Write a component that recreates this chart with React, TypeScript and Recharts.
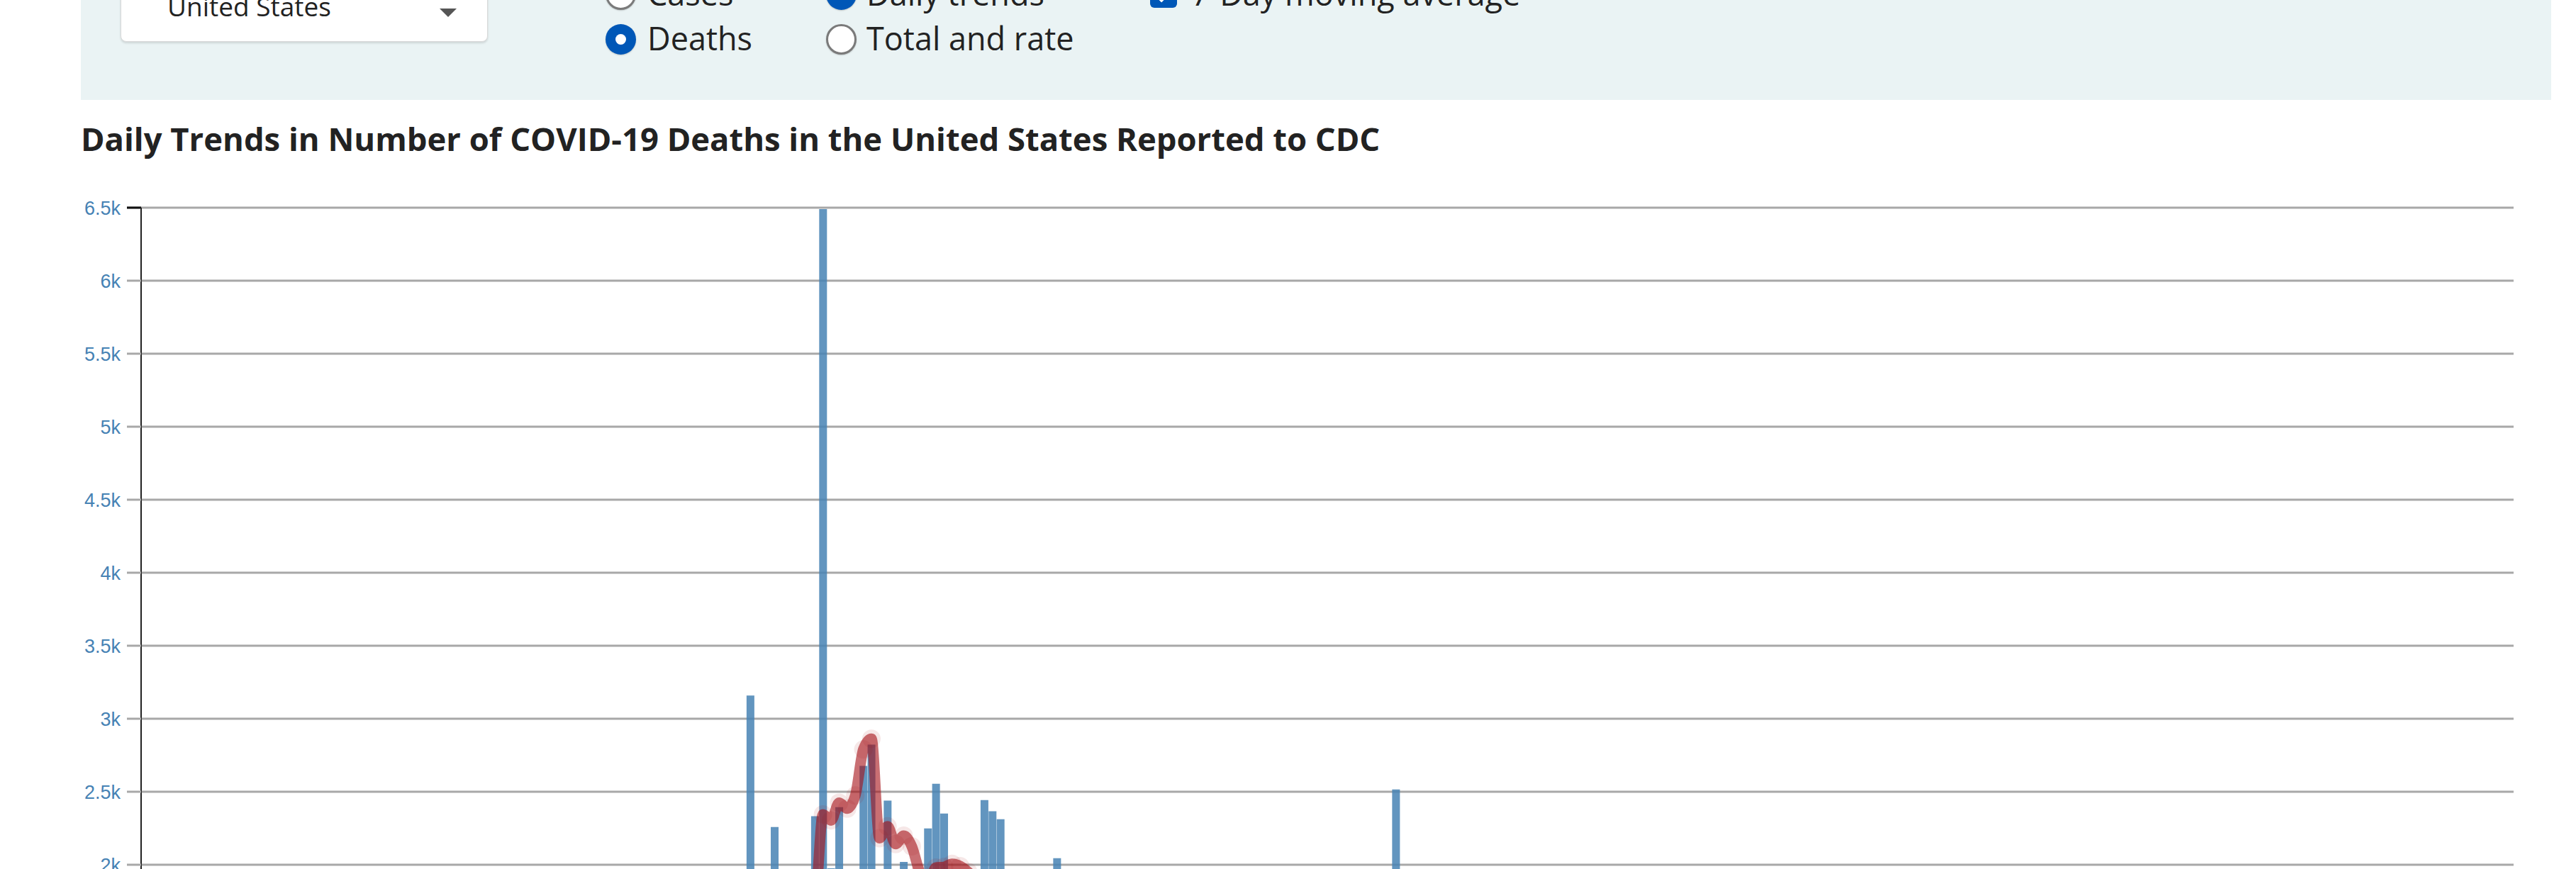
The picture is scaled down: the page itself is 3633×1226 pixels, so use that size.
import React from "react";
import { ComposedChart, Bar, Line, XAxis, YAxis, CartesianGrid } from "recharts";

// daily deaths reported to CDC, one value per day starting 2020-01-22
const dailyDeaths = [
  0, 0, 0, 0, 0, 0, 0, 0, 0, 0,
  0, 0, 0, 0, 0, 0, 0, 0, 0, 0,
  0, 0, 0, 0, 0, 0, 0, 0, 0, 0,
  0, 0, 0, 0, 0, 0, 0, 0, 1, 0,
  5, 3, 2, 4, 3, 3, 4, 4, 4, 6,
  8, 10, 11, 11, 18, 25, 27, 45, 60, 80,
  115, 135, 190, 235, 270, 360, 430, 460, 520, 910,
  1050, 1160, 1210, 1330, 1190, 3159, 1290, 1930, 2259, 1548,
  1901, 1250, 900, 2332, 6490, 1976, 2395, 1621, 1900, 2677,
  2823, 1733, 2439, 1548, 2020, 1390, 1417, 2249, 2555, 2351,
  1814, 1900, 1450, 1120, 2443, 2366, 2312, 1750, 1620, 1100,
  950, 1600, 1850, 2045, 1680, 1450, 880, 820, 1530, 1440,
  1320, 1250, 1180, 640, 620, 690, 1490, 1250, 1180, 960,
  640, 700, 1080, 990, 1050, 900, 680, 450, 590, 930,
  930, 840, 770, 630, 350, 420, 870, 720, 760, 700,
  530, 270, 420, 860, 770, 2516, 620, 500, 280, 360,
  760, 700, 650, 260, 280, 340, 840, 900, 970, 780,
  720, 470, 380, 950, 980, 1000, 890, 880, 450, 430,
  1100, 1180, 1110, 1230, 1110, 530, 480, 1390, 1500, 1270,
  1200, 1220, 1100, 470, 560, 1250, 1300, 1180, 1060, 560,
  530, 1450, 1330, 1180, 1270, 1120, 590, 480, 1230, 1450,
  1130, 1040, 950, 500, 450, 1200, 1180, 1090, 970, 1010,
  440, 390, 1010, 1080, 1050, 990, 840, 420, 260, 400,
  1200, 960, 870, 790, 300, 400, 1140, 1000, 870, 860,
  720, 290, 380, 1120, 920, 1010, 850, 720, 310, 280,
  750, 910, 970, 860, 830, 680, 390, 330, 660, 920,
  940, 740, 560, 390, 330, 720, 840, 900, 890, 770,
  400, 440, 930, 1110, 1020, 870, 900, 470, 410, 990,
  1040, 1000, 910, 830, 440, 460, 1120, 1180, 1140, 1250,
  1000, 630, 690, 1420,
];

// 7-day moving average
const sevenDayAvg = [
  0, 0, 0, 0, 0, 0, 0, 0, 0, 0,
  0, 0, 0, 0, 0, 0, 0, 0, 0, 0,
  0, 0, 0, 0, 0, 0, 0, 0, 0, 0,
  0, 0, 0, 0, 0, 0, 0, 0, 0, 0,
  1, 1, 1, 2, 2, 3, 3, 4, 4, 4,
  5, 6, 7, 8, 10, 13, 16, 21, 28, 37,
  52, 70, 93, 120, 150, 190, 235, 280, 330, 420,
  510, 610, 700, 800, 900, 1190, 1240, 1440, 1590, 1640,
  1720, 1710, 1660, 1730, 2345, 2304, 2425, 2385, 2474, 2790,
  2863, 2182, 2263, 2142, 2199, 2126, 1946, 1864, 1981, 1985,
  2006, 1990, 1950, 1890, 1890, 1880, 1910, 1830, 1800, 1800,
  1730, 1660, 1590, 1560, 1550, 1570, 1580, 1560, 1540, 1480,
  1430, 1390, 1370, 1330, 1290, 1200, 1190, 1160, 1130, 1090,
  1070, 1060, 1010, 980, 960, 930, 920, 890, 850, 840,
  830, 800, 780, 770, 760, 730, 730, 710, 690, 680,
  670, 660, 650, 650, 640, 890, 890, 890, 890, 870,
  870, 860, 590, 560, 550, 560, 580, 600, 640, 650,
  680, 690, 700, 720, 730, 750, 760, 780, 790, 790,
  810, 840, 870, 900, 920, 940, 950, 990, 1030, 1050,
  1050, 1070, 1070, 1070, 1080, 1060, 1030, 1020, 1000, 990,
  1000, 1010, 1020, 1030, 1050, 1050, 1060, 1050, 1040, 1060,
  1050, 1020, 1000, 990, 990, 990, 950, 940, 930, 940,
  930, 920, 900, 890, 880, 870, 850, 840, 820, 820,
  800, 790, 770, 770, 760, 750, 740, 740, 740, 740,
  730, 730, 730, 720, 720, 720, 720, 710, 710, 700,
  700, 700, 700, 700, 710, 700, 690, 700, 690, 690,
  680, 660, 660, 660, 660, 670, 680, 690, 710, 730,
  730, 740, 770, 790, 800, 800, 810, 810, 810, 820,
  810, 810, 820, 810, 820, 840, 850, 870, 890, 940,
  960, 990, 1020, 1060,
];

const yTicks = [0, 500, 1000, 1500, 2000, 2500, 3000, 3500, 4000, 4500, 5000, 5500, 6000, 6500];

const dates = dailyDeaths.map((_, i) =>
  new Date(Date.UTC(2020, 0, 22 + i)).toISOString().slice(0, 10)
);

const rows = dates.map((date, i) => ({
  date,
  deaths: dailyDeaths[i],
  avg: sevenDayAvg[i],
}));

const PANEL_BG = "#eaf3f4";
const TEXT = "#222";
const BLUE = "#0057b7";
const FONT = "'Open Sans', sans-serif";

const fmtK = (v: number) => (v === 0 ? "0" : `${v / 1000}k`);

function Label({ x, baseline, size, weight = 400, children }: any) {
  return (
    <div
      style={{
        position: "absolute",
        left: x,
        top: baseline - 0.888 * size,
        fontFamily: FONT,
        fontSize: size,
        lineHeight: `${size}px`,
        fontWeight: weight,
        color: TEXT,
        whiteSpace: "nowrap",
      }}
    >
      {children}
    </div>
  );
}

function Radio({ cx, cy, checked }: { cx: number; cy: number; checked: boolean }) {
  const d = 43;
  return (
    <div
      style={{
        position: "absolute",
        left: cx - d / 2,
        top: cy - d / 2,
        width: d,
        height: d,
        boxSizing: "border-box",
        borderRadius: "50%",
        background: checked ? BLUE : "#fff",
        border: checked ? "none" : "3px solid #7a7a7a",
        boxShadow: "0 1px 2px rgba(0,0,0,0.2)",
      }}
    >
      {checked && (
        <div
          style={{
            position: "absolute",
            left: (d - 15) / 2,
            top: (d - 15) / 2,
            width: 15,
            height: 15,
            borderRadius: "50%",
            background: "#fff",
          }}
        />
      )}
    </div>
  );
}

const renderTick = (props: any) => {
  const { x, y, payload } = props;
  return (
    <g>
      {payload.value === 6500 && (
        <line x1={x + 9} x2={x + 29} y1={y} y2={y} stroke="#111" strokeWidth={3} />
      )}
      <text
        x={x}
        y={y}
        dy="0.355em"
        textAnchor="end"
        fill="#4682b4"
        fontSize={27}
        fontFamily="'Liberation Sans', Arial, sans-serif"
      >
        {fmtK(payload.value)}
      </text>
    </g>
  );
};

export default function App() {
  return (
    <div
      style={{
        position: "absolute",
        left: 0,
        top: 0,
        width: 3633,
        height: 1226,
        overflow: "hidden",
        background: "#fff",
      }}
    >
      {/* filter panel, scrolled partly out of view */}
      <div
        style={{
          position: "absolute",
          left: 114,
          top: -100,
          width: 3484,
          height: 241,
          background: PANEL_BG,
        }}
      />
      <div
        style={{
          position: "absolute",
          left: 170,
          top: -40,
          width: 518,
          height: 99,
          boxSizing: "border-box",
          background: "#fff",
          border: "1px solid #d9d9d9",
          borderRadius: 8,
          boxShadow: "0 2px 3px rgba(0,0,0,0.12)",
        }}
      />
      <Label x={236} baseline={23} size={37}>United States</Label>
      <div
        style={{
          position: "absolute",
          left: 620,
          top: 12,
          width: 0,
          height: 0,
          borderLeft: "12px solid transparent",
          borderRight: "12px solid transparent",
          borderTop: "12px solid #555",
        }}
      />

      <Radio cx={875} cy={-8} checked={false} />
      <Label x={913} baseline={8} size={45}>Cases</Label>
      <Radio cx={875} cy={55} checked={true} />
      <Label x={913} baseline={71} size={45}>Deaths</Label>

      <Radio cx={1186} cy={-8} checked={true} />
      <Label x={1222} baseline={8} size={45}>Daily trends</Label>
      <Radio cx={1186} cy={55} checked={false} />
      <Label x={1222} baseline={71} size={45}>Total and rate</Label>

      <div
        style={{
          position: "absolute",
          left: 1622,
          top: -27,
          width: 38,
          height: 38,
          borderRadius: 6,
          background: BLUE,
        }}
      >
        <div
          style={{
            position: "absolute",
            left: 13,
            top: 4,
            width: 9,
            height: 20,
            borderRight: "5px solid #fff",
            borderBottom: "5px solid #fff",
            transform: "rotate(45deg)",
          }}
        />
      </div>
      <Label x={1680} baseline={8} size={45}>7-Day moving average</Label>

      <Label x={114} baseline={213} size={45.4} weight={700}>
        Daily Trends in Number of COVID-19 Deaths in the United States Reported to CDC
      </Label>

      <div style={{ position: "absolute", left: 100, top: 240 }}>
        <ComposedChart
          width={3500}
          height={1432}
          data={rows}
          margin={{ top: 53, right: 55, left: 0, bottom: 40 }}
          barCategoryGap={0.3}
        >
          <CartesianGrid vertical={false} stroke="#a8a8a8" strokeWidth={3} />
          <XAxis dataKey="date" hide />
          <YAxis
            domain={[0, 6500]}
            ticks={yTicks}
            interval={0}
            width={99}
            tickSize={20}
            tickMargin={9}
            axisLine={{ stroke: "#222", strokeWidth: 2 }}
            tickLine={{ stroke: "#a8a8a8", strokeWidth: 3 }}
            tick={renderTick}
          />
          <Bar dataKey="deaths" fill="#4682b4" fillOpacity={0.85} isAnimationActive={false} />
          <Line
            dataKey="avg"
            type="monotone"
            stroke="#a50f15"
            strokeOpacity={0.6}
            strokeWidth={15}
            strokeLinecap="round"
            dot={{ r: 13, fill: "#a50f15", fillOpacity: 0.1, stroke: "none", strokeWidth: 0 }}
            activeDot={false}
            isAnimationActive={false}
          />
        </ComposedChart>
      </div>
    </div>
  );
}
